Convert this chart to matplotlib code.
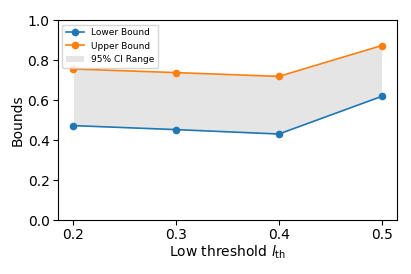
import matplotlib
matplotlib.use("Agg")
import matplotlib.pyplot as plt

thresholds = [0.2, 0.3, 0.4, 0.5]
lower = [0.472, 0.452, 0.430, 0.618]
upper = [0.755, 0.737, 0.718, 0.872]

fig, ax = plt.subplots(figsize=(4.11, 2.74), dpi=100)
ax.plot(thresholds, lower, marker="o", markersize=4.5, linewidth=1.2, label="Lower Bound")
ax.plot(thresholds, upper, marker="o", markersize=4.5, linewidth=1.2, label="Upper Bound")
ax.fill_between(thresholds, lower, upper, color="gray", alpha=0.2, linewidth=0, label="95% CI Range")

ax.set_ylim(0, 1.0)
ax.set_xticks(thresholds)
ax.set_yticks([0.0, 0.2, 0.4, 0.6, 0.8, 1.0])
ax.tick_params(labelsize=10, pad=2.5)
ax.set_xlabel(r"Low threshold $l_{\mathrm{th}}$", fontsize=10, labelpad=1)
ax.set_ylabel("Bounds", fontsize=10, labelpad=2)
ax.legend(loc="upper left", fontsize=6.5)

plt.subplots_adjust(left=0.141, right=0.966, top=0.927, bottom=0.197)
plt.savefig("out.png", dpi=100)
